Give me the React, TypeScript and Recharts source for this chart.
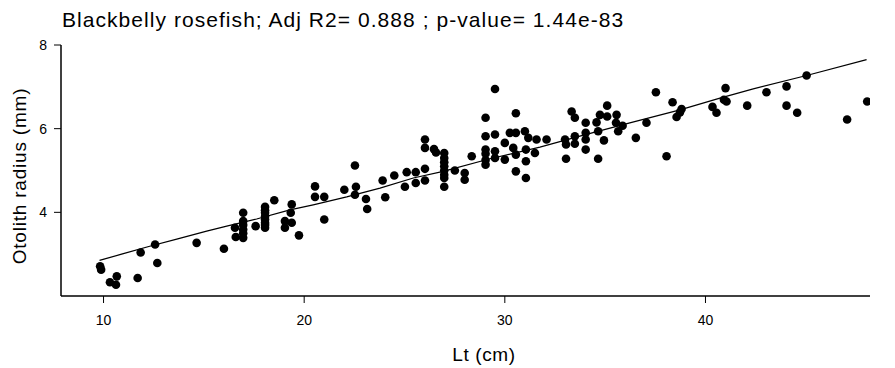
import React from "react";
import { ScatterChart, Scatter, XAxis, YAxis } from "recharts";

const lengthCm: number[] = [
  9.83, 9.88, 10.32, 10.66, 10.62, 11.7, 11.85, 12.57, 12.68, 14.64, 16.0, 16.55, 16.59,
  16.96, 16.96, 16.96, 16.96, 16.96, 16.96, 17.58,
  18.05, 18.05, 18.05, 18.05, 18.05, 18.05, 18.05, 18.05,
  18.51, 19.04, 19.04, 19.38, 19.33, 19.38, 19.74,
  20.54, 20.54, 21.0, 21.0, 22.0, 22.53, 22.58, 22.53, 23.08, 23.14, 23.91, 24.04, 24.49,
  25.02, 25.11, 25.56, 25.56, 26.02, 26.02, 26.02, 26.02, 26.47, 26.57,
  26.98, 26.98, 26.98, 26.98, 26.98, 26.98, 26.98, 26.98,
  27.51, 28.0, 28.0, 28.35,
  29.51, 29.04, 29.04, 29.04, 29.04, 29.04, 29.04, 29.51, 29.51, 29.51, 30.0, 30.0, 30.25,
  30.55, 30.55, 30.42, 30.55, 30.55, 31.0, 31.17, 31.05, 31.05, 31.05, 31.58, 31.5, 32.08,
  33.0, 33.05, 33.05, 33.33, 33.49, 33.49, 33.49, 34.03, 34.03, 34.03, 34.03,
  34.65, 34.57, 34.65, 34.74, 35.1, 35.1, 34.94, 35.57, 35.54, 35.65, 35.87, 36.53, 37.06,
  37.53, 38.06, 38.36, 38.56, 38.73, 38.81, 40.35, 40.55, 41.0, 40.92, 41.05, 42.08, 43.04,
  44.04, 44.04, 44.57, 45.04, 47.06, 48.06,
];

const otolithMm: number[] = [
  2.71, 2.63, 2.33, 2.47, 2.27, 2.43, 3.04, 3.23, 2.79, 3.27, 3.13, 3.63, 3.41,
  3.99, 3.79, 3.59, 3.39, 3.7, 3.5, 3.67,
  4.13, 3.99, 3.83, 3.63, 4.05, 3.9, 3.75, 3.7,
  4.29, 3.79, 3.63, 4.19, 3.99, 3.75, 3.45,
  4.62, 4.37, 4.37, 3.83, 4.54, 5.12, 4.61, 4.42, 4.32, 4.08, 4.76, 4.36, 4.88,
  4.61, 4.96, 4.96, 4.7, 5.74, 5.54, 5.04, 4.76, 5.51, 5.43,
  5.42, 5.3, 5.2, 5.1, 5.0, 4.9, 4.82, 4.61,
  5.0, 4.94, 4.78, 5.34,
  6.95, 6.26, 5.82, 5.5, 5.4, 5.25, 5.14, 5.86, 5.46, 5.3, 5.66, 5.26, 5.9,
  6.37, 5.9, 5.54, 5.38, 4.98, 5.94, 5.78, 5.5, 5.22, 4.82, 5.74, 5.42, 5.74,
  5.74, 5.62, 5.28, 6.41, 6.26, 5.82, 5.64, 6.14, 5.9, 5.74, 5.5,
  5.28, 6.15, 5.94, 6.33, 6.55, 6.29, 5.72, 6.33, 6.14, 5.94, 6.07, 5.78, 6.14,
  6.87, 5.34, 6.63, 6.28, 6.39, 6.47, 6.52, 6.38, 6.97, 6.69, 6.65, 6.55, 6.87,
  7.01, 6.55, 6.38, 7.27, 6.22, 6.65,
];

const fitX: number[] = [
  9.8, 10.9, 12.3, 13.65, 15.14, 16.14, 17.63, 19.29, 20.45, 22.12, 23.78, 25.44,
  26.93, 29.26, 31.75, 33.74, 36.23, 38.73, 40.72, 42.38, 45.04, 48.03,
];
const fitY: number[] = [
  2.85, 3.0, 3.19, 3.36, 3.55, 3.67, 3.84, 4.06, 4.18, 4.37, 4.58, 4.82,
  4.98, 5.28, 5.56, 5.82, 6.14, 6.45, 6.73, 6.95, 7.27, 7.65,
];

const xTicks: number[] = [10, 20, 30, 40];
const yTicks: number[] = [4, 6, 8];

const titleText = "Blackbelly rosefish; Adj R2= 0.888 ; p-value= 1.44e-83";
const xLabel = "Lt (cm)";
const yLabel = "Otolith radius (mm)";

const points = lengthCm.map((x, i) => ({ x, y: otolithMm[i] }));
const fitPoints = fitX.map((x, i) => ({ x, y: fitY[i] }));

const FONT = "'Liberation Sans', Arial, Helvetica, sans-serif";

const Dot = (props: any) => {
  const { cx, cy } = props;
  if (cx == null || cy == null) return <g />;
  return <circle cx={cx} cy={cy} r={4.3} fill="#000" />;
};

const NoShape = () => <g />;

export default function App() {
  const W = 895;
  const H = 368;
  return (
    <div style={{ position: "absolute", left: 0, top: 0, width: W, height: H, background: "#fff", fontFamily: FONT }}>
      <ScatterChart width={W} height={H} margin={{ top: 45, right: 25, bottom: 42, left: 0 }}>
        <XAxis
          type="number"
          dataKey="x"
          domain={[7.88, 48.2]}
          ticks={xTicks}
          interval={0}
          allowDataOverflow
          height={30}
          tickSize={7}
          tickMargin={12}
          axisLine={{ stroke: "#000", strokeWidth: 1.5 }}
          tickLine={{ stroke: "#000", strokeWidth: 1 }}
          tick={{ fill: "#000", fontSize: 14, fontFamily: FONT }}
        />
        <YAxis
          type="number"
          dataKey="y"
          domain={[2, 8]}
          ticks={yTicks}
          interval={0}
          allowDataOverflow
          width={61}
          tickSize={7}
          tickMargin={7}
          axisLine={{ stroke: "#000", strokeWidth: 1.5 }}
          tickLine={{ stroke: "#000", strokeWidth: 1 }}
          tick={{ fill: "#000", fontSize: 14, fontFamily: FONT }}
        />
        <Scatter data={points} shape={Dot} isAnimationActive={false} />
        <Scatter
          data={fitPoints}
          shape={NoShape}
          line={{ stroke: "#000", strokeWidth: 1.2 }}
          lineType="joint"
          isAnimationActive={false}
        />
      </ScatterChart>
      <svg width={W} height={H} style={{ position: "absolute", left: 0, top: 0, pointerEvents: "none" }}>
        <text x={62} y={27} fontSize={21} letterSpacing={1.05} fill="#000" fontFamily={FONT}>
          {titleText}
        </text>
        <text x={484} y={361} fontSize={19} letterSpacing={0.6} fill="#000" fontFamily={FONT} textAnchor="middle">
          {xLabel}
        </text>
        <text
          x={0}
          y={0}
          fontSize={19}
          letterSpacing={0.8}
          fill="#000"
          fontFamily={FONT}
          textAnchor="middle"
          transform="translate(26,176) rotate(-90)"
        >
          {yLabel}
        </text>
      </svg>
    </div>
  );
}
